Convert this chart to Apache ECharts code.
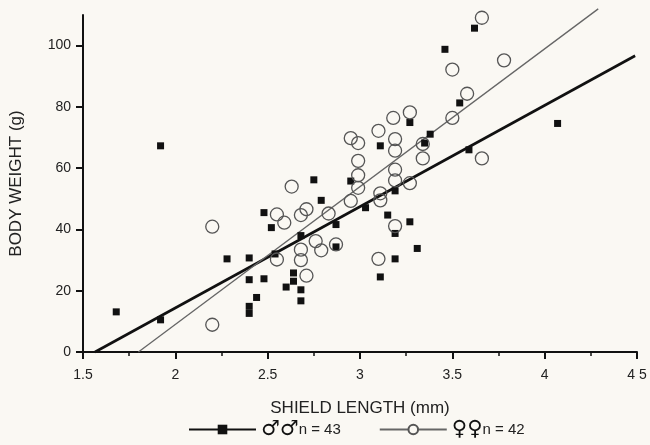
<!DOCTYPE html>
<html>
<head>
<meta charset="utf-8">
<script src="https://cdn.jsdelivr.net/npm/echarts@6/dist/echarts.min.js"></script>
<style>
  html, body { margin: 0; padding: 0; background: #faf8f3; }
  #chart { width: 650px; height: 445px; }
</style>
</head>
<body>
<div id="chart"></div>
<script>
// males (filled squares)
var maleLength = [1.68, 1.92, 1.92, 2.28, 2.40, 2.40, 2.48, 2.44, 2.40, 2.40, 2.48, 2.52,
  2.64, 2.64, 2.60, 2.68, 2.68, 2.75, 2.68, 2.95, 2.79, 3.03, 2.87, 2.87, 3.19, 3.15,
  3.27, 3.19, 3.31, 3.19, 3.11, 3.27, 3.11, 3.35, 3.38, 3.62, 3.46, 3.54, 3.59, 4.07, 2.54];
var maleWeight = [13.1, 67.3, 10.5, 30.4, 30.7, 23.6, 23.9, 17.8, 14.9, 12.6, 45.5, 40.6,
  25.8, 23.1, 21.2, 20.3, 16.7, 56.2, 38.0, 55.8, 49.5, 47.1, 41.6, 34.3, 52.6, 44.7,
  42.5, 38.7, 33.8, 30.4, 24.5, 74.9, 67.3, 68.2, 71.1, 105.7, 98.8, 81.3, 66.0, 74.6, 32.0];

// females (open circles)
var femaleLength = [2.20, 2.20, 2.55, 2.59, 2.55, 2.63, 2.68, 2.71, 2.76, 2.68, 2.68, 2.71,
  2.99, 3.19, 3.19, 3.27, 2.99, 3.11, 3.11, 2.95, 2.83, 2.79, 2.87, 3.19, 3.10,
  3.27, 3.18, 3.10, 2.95, 2.99, 3.19, 3.19, 3.34, 3.34, 2.99, 3.66, 3.50, 3.58, 3.50, 3.66, 3.78];
var femaleWeight = [40.9, 8.9, 44.9, 42.2, 30.2, 54.0, 44.7, 46.6, 36.2, 33.4, 30.0, 24.9,
  57.7, 59.5, 56.0, 55.1, 53.6, 51.8, 49.5, 49.3, 45.2, 33.2, 35.1, 41.1, 30.4,
  78.2, 76.4, 72.2, 69.8, 68.2, 69.5, 65.7, 67.9, 63.2, 62.4, 109.1, 92.2, 84.3, 76.4, 63.2, 95.2];

// fitted regression lines (end points)
var maleFitX = [1.565, 4.49];
var maleFitY = [0, 96.7];
var femaleFitX = [1.80, 4.29];
var femaleFitY = [0, 112];

var xTicks = [1.5, 2, 2.5, 3, 3.5, 4, 4.5];
var yTicks = [0, 20, 40, 60, 80, 100];

function pairs(xs, ys) {
  return xs.map(function (x, i) { return [x, ys[i]]; });
}

var chart = echarts.init(document.getElementById('chart'));
var font = 'Liberation Sans, Arial, sans-serif';
var bg = '#faf8f3';

chart.setOption({
  backgroundColor: bg,
  animation: false,
  grid: { left: 83, right: 13, top: 15, bottom: 93 },
  xAxis: {
    type: 'value',
    min: 1.5, max: 4.5, interval: 0.5,
    name: 'SHIELD LENGTH (mm)',
    nameLocation: 'middle',
    nameGap: 48,
    nameTextStyle: { fontFamily: font, fontSize: 17, color: '#222' },
    axisLine: { lineStyle: { color: '#111', width: 2 } },
    axisTick: { length: 7, lineStyle: { color: '#111', width: 2 } },
    minorTick: { show: true, splitNumber: 2, length: 4, lineStyle: { color: '#111', width: 1.5 } },
    splitLine: { show: false },
    axisLabel: {
      margin: 16, fontFamily: font, fontSize: 14, color: '#222',
      customValues: xTicks,
      formatter: function (v) { return v === 4.5 ? '4 5' : String(v); }
    }
  },
  yAxis: {
    type: 'value',
    min: 0, max: 110, interval: 20,
    name: 'BODY WEIGHT (g)',
    nameLocation: 'middle',
    nameGap: 58,
    nameTextStyle: { fontFamily: font, fontSize: 17, color: '#222' },
    axisLine: { show: true, lineStyle: { color: '#111', width: 2 } },
    axisTick: { show: true, length: 7, customValues: yTicks, lineStyle: { color: '#111', width: 2 } },
    splitLine: { show: false },
    axisLabel: { margin: 12, fontFamily: font, fontSize: 14, color: '#222', customValues: yTicks }
  },
  legend: {
    bottom: 0,
    left: 183,
    itemWidth: 67,
    itemHeight: 12,
    itemGap: 38,
    data: ['male', 'female'],
    formatter: function (name) {
      return name === 'male' ? '{s|\u2642\u2642}{t|n = 43}' : '{s|\u2640\u2640}{t|n = 42}';
    },
    textStyle: {
      rich: {
        s: { fontFamily: 'DejaVu Sans', fontSize: 21, fontWeight: 'bold', color: '#111' },
        t: { fontFamily: font, fontSize: 15, color: '#222' }
      }
    }
  },
  series: [
    {
      name: 'male',
      type: 'line',
      data: pairs(maleFitX, maleFitY),
      showSymbol: false,
      symbol: 'rect',
      symbolSize: 8,
      clip: false,
      lineStyle: { color: '#111', width: 2.6 },
      itemStyle: { color: '#111' },
      z: 3
    },
    {
      name: 'female',
      type: 'line',
      data: pairs(femaleFitX, femaleFitY),
      showSymbol: false,
      symbol: 'circle',
      symbolSize: 12,
      clip: false,
      lineStyle: { color: '#666', width: 1.3 },
      itemStyle: { color: bg, borderColor: '#555', borderWidth: 1.3 },
      z: 3
    },
    {
      name: 'maleDots',
      type: 'scatter',
      data: pairs(maleLength, maleWeight),
      symbol: 'rect',
      symbolSize: 7,
      itemStyle: { color: '#111', opacity: 1 },
      z: 4
    },
    {
      name: 'femaleDots',
      type: 'scatter',
      data: pairs(femaleLength, femaleWeight),
      symbol: 'circle',
      symbolSize: 13,
      itemStyle: { color: 'rgba(0,0,0,0)', borderColor: '#555', borderWidth: 1.3, opacity: 1 },
      z: 4
    }
  ]
});
</script>
</body>
</html>
